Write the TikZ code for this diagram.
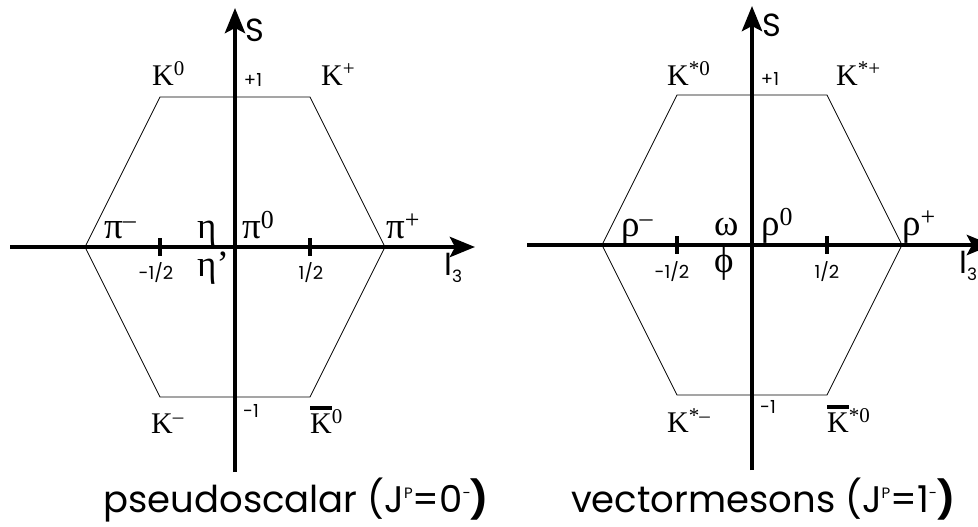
\documentclass[tikz,border=0pt]{standalone}
\usepackage{fontspec}
\setmainfont{Poppins}
\newfontfamily\partfont{Liberation Serif}
\usetikzlibrary{arrows.meta}
\newcommand{\barK}{\vbox{\hrule height 4pt\kern 3pt\hbox{K}}}
\newcommand{\lowidx}[1]{\raisebox{-7pt}{\fontsize{17}{17}\selectfont #1}}
\newcommand{\highidx}[1]{\raisebox{14pt}{\fontsize{15}{15}\selectfont #1}}

\begin{document}
\begin{tikzpicture}[x=1pt,y=-1pt,
  axis/.style={line width=4.5pt,-{Stealth[length=25pt,width=20pt,inset=5pt]}},
  hexline/.style={line width=0.8pt},
  tickmark/.style={line width=4pt},
  particle/.style={anchor=base west,inner sep=0pt,font=\partfont\fontsize{30}{30}\selectfont},
  greek/.style={anchor=base west,inner sep=0pt,font=\partfont\fontsize{37}{37}\selectfont},
  ticklabel/.style={anchor=base,inner sep=0pt,font=\fontsize{18}{18}\selectfont},
  axislabel/.style={anchor=base west,inner sep=0pt,font=\fontsize{32}{32}\selectfont},
  caption/.style={anchor=base,inner sep=0pt,font=\fontsize{37}{37}\selectfont}]
\clip (0,0) rectangle (978,527);
% pseudoscalar nonet
\begin{scope}[shift={(235,247)}]
\draw[hexline](-150,0)--(-75,-150)--(75,-150)--(150,0)--(75,150)--(-75,150)--cycle;
\draw[axis](-225,0)--(240,0);
\draw[axis](0,225)--(0,-239);
\draw[tickmark](-75,-9)--(-75,9) (75,-9)--(75,9);
\node[axislabel] (S) at (10,-205) {S};
\node[axislabel] (I3) at (209,28) {I\lowidx{3}};
\node[ticklabel] (plusone) at (18,-160) {+1};
\node[ticklabel] (minusone) at (16,170) {-1};
\node[ticklabel] (halfneg) at (-79,32) {-1/2};
\node[ticklabel] (halfpos) at (76,32) {1/2};
\node[particle] (K0) at (-83,-162) {K\textsuperscript{0}};
\node[particle] (Kplus) at (86,-162) {K\textsuperscript{+}};
\node[greek] (piminus) at (-131,-9) {π\textsuperscript{–}};
\node[greek] (eta) at (-38,-9) {η};
\node[greek] (pizero) at (7,-9) {π\textsuperscript{0}};
\node[greek] (piplus) at (151,-9) {π\textsuperscript{+}};
\node[greek] (etaprime) at (-38,29) {η’};
\node[particle] (Kminus) at (-84,186) {K\textsuperscript{–}};
\node[particle] (Kzerobar) at (75,186) {\barK\textsuperscript{0}};
\end{scope}
% vector nonet
\begin{scope}[shift={(752,245)}]
\draw[hexline](-150,0)--(-75,-150)--(75,-150)--(150,0)--(75,150)--(-75,150)--cycle;
\draw[axis](-225,0)--(240,0);
\draw[axis](0,225)--(0,-239);
\draw[tickmark](-75,-9)--(-75,9) (75,-9)--(75,9);
\node[axislabel] (vS) at (10,-208) {S};
\node[axislabel] (vI3) at (207,28) {I\lowidx{3}};
\node[ticklabel] (vplusone) at (18,-160) {+1};
\node[ticklabel] (vminusone) at (16,168) {-1};
\node[ticklabel] (vhalfneg) at (-80,33) {-1/2};
\node[ticklabel] (vhalfpos) at (75,33) {1/2};
\node[particle] (Kstarzero) at (-85,-160) {K\textsuperscript{*0}};
\node[particle] (Kstarplus) at (84,-160) {K\textsuperscript{*+}};
\node[greek] (rhominus) at (-131,-9) {ρ\textsuperscript{–}};
\node[greek] (omega) at (-38,-10) {ω};
\node[greek] (rhozero) at (9,-10) {ρ\textsuperscript{0}};
\node[greek] (rhoplus) at (150,-10) {ρ\textsuperscript{+}};
\node[greek] (phi) at (-38,27) {ϕ};
\node[particle] (Kstarminus) at (-85,187) {K\textsuperscript{*–}};
\node[particle] (Kstarzerobar) at (75,187) {\barK\textsuperscript{*0}};
\end{scope}
\node[caption] (pseudo) at (296,512) {pseudoscalar (J\highidx{P}=0\highidx{-}{\bfseries )}};
\node[caption] (vector) at (763,512) {vectormesons (J\highidx{P}=1\highidx{-}{\bfseries )}};
\end{tikzpicture}
\end{document}
